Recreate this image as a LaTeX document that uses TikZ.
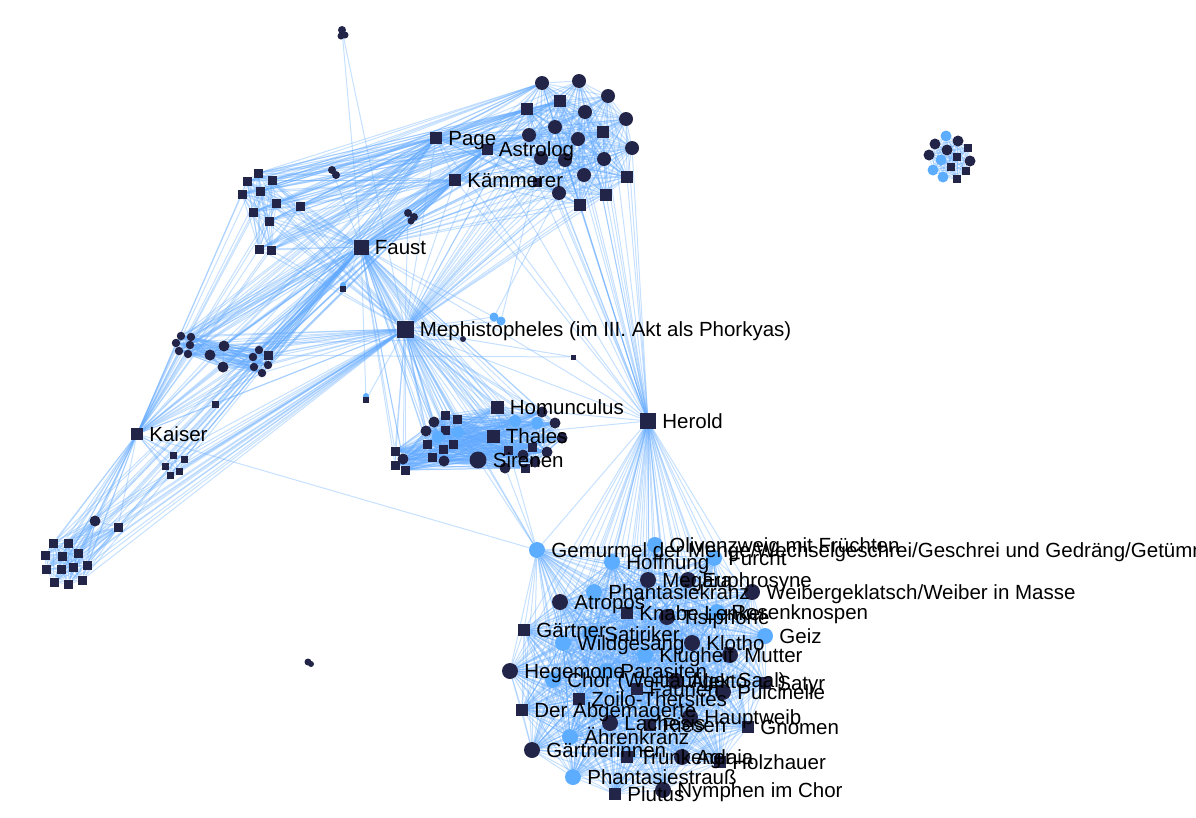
\documentclass[tikz,border=0pt]{standalone}
\usepackage{fontspec}
\setmainfont{Liberation Sans}
\usepackage{xcolor}
\usepackage{tikz}
\usetikzlibrary{shapes.geometric, positioning, calc, backgrounds}
\definecolor{nodeDark}{RGB}{34, 36, 72}
\definecolor{nodeLight}{RGB}{92, 172, 255}
\definecolor{edgeBlue}{RGB}{96, 168, 255}
\pgfdeclarelayer{front}
\pgfsetlayers{background,main,front}

% every pair of a group
\newcommand{\fullgraph}[2]{%
  \foreach \i in {2,...,#2}{%
    \pgfmathtruncatemacro\k{\i-1}%
    \foreach \j in {1,...,\k} \draw[edge] (#1\i) -- (#1\j);
  }}
% one node to a whole group
\newcommand{\hubedges}[3]{%
  \foreach \i in {1,...,#3} \draw[edge] (#1) -- (#2\i);}

\begin{document}
\begin{tikzpicture}[
    x=1pt, y=-1pt,
    dcirc/.style={circle, fill=nodeDark, inner sep=0pt, minimum size=14pt},
    lcirc/.style={circle, fill=nodeLight, inner sep=0pt, minimum size=15pt},
    midc/.style={dcirc, minimum size=11pt},
    lmidc/.style={lcirc, minimum size=12pt},
    smcirc/.style={dcirc, minimum size=8.5pt},
    dsq/.style={rectangle, fill=nodeDark, inner sep=0pt, minimum size=12pt},
    smsq/.style={dsq, minimum size=9pt},
    tinysq/.style={dsq, minimum size=7pt},
    edge/.style={draw=edgeBlue, draw opacity=0.36, line width=1pt},
    lab/.style={font=\fontsize{20.5}{22}\selectfont, anchor=base west, inner sep=0pt, text=black}
]
\useasboundingbox (0,0) rectangle (1196,817);

% Main characters
\node[dsq, minimum size=15pt] (faust) at (361,247) {};
\node[dsq, minimum size=17pt] (meph) at (405,329) {};
\node[dsq] (page) at (436,138) {};
\node[dsq, minimum size=11pt] (astro) at (487,149) {};
\node[dsq] (kaem) at (455,180) {};
\node[dsq] (kaiser) at (137,434) {};
\node[dsq, minimum size=13pt] (homun) at (497,407) {};
\node[dsq, minimum size=13pt] (thales) at (493,436) {};
\node[dcirc, minimum size=17pt] (sirenen) at (478,460) {};
\node[dsq, minimum size=16pt] (herold) at (648,421) {};

% Court group (top right)
\foreach \x/\y/\s [count=\i] in {542/83/dcirc, 579/81/dcirc, 608/96/dcirc, 585/112/dcirc,
    626/119/dcirc, 555/127/dcirc, 529/135/dcirc, 578/139/dcirc, 632/148/dcirc, 541/158/dcirc,
    565/160/dcirc, 604/159/dcirc, 584/175/dcirc, 559/193/dcirc, 527/109/dsq, 560/101/dsq,
    603/132/dsq, 627/177/dsq, 606/195/dsq, 580/205/dsq, 537/182/smsq}
  \node[\s] (tr\i) at (\x,\y) {};

% Small squares (top left)
\foreach \x/\y [count=\i] in {258/173, 247/181, 272/180, 242/194, 260/191, 276/203,
    300/206, 253/212, 269/221, 259/249, 271/250}
  \node[smsq] (tl\i) at (\x,\y) {};

% Circles (middle left)
\foreach \x/\y/\s [count=\i] in {181/336/smcirc, 191/337/smcirc, 176/343/smcirc, 190/345/smcirc,
    179/351/smcirc, 188/354/smcirc, 210/355/midc, 224/346/midc, 223/367/midc, 259/350/smcirc,
    253/357/smcirc, 268/355/smsq, 268/365/smcirc, 254/367/smcirc, 262/373/smcirc}
  \node[\s] (ml\i) at (\x,\y) {};

% Near the emperor
\foreach \x/\y [count=\i] in {173/455, 184/459, 165/466, 179/471, 170/475}
  \node[tinysq] (ka\i) at (\x,\y) {};

% Bottom left group
\foreach \x/\y/\s [count=\i] in {53/543/smsq, 68/543/smsq, 45/555/smsq, 62/556/smsq, 78/553/smsq,
    46/569/smsq, 61/569/smsq, 73/567/smsq, 87/565/smsq, 54/582/smsq, 68/584/smsq, 82/580/smsq,
    95/521/midc, 118/527/smsq}
  \node[\s] (bl\i) at (\x,\y) {};

% Middle group
\foreach \x/\y/\s [count=\i] in {445/415/smsq, 457/419/smsq, 445/430/smsq, 427/444/smsq,
    453/444/smsq, 443/449/smsq, 432/457/smsq, 395/451/smsq, 395/465/smsq, 405/470/smsq,
    508/450/smsq, 532/447/smsq, 525/468/smsq, 434/422/midc, 426/431/midc, 403/459/midc,
    444/461/midc, 542/412/midc, 555/423/midc, 523/455/midc, 547/452/midc, 535/462/midc,
    505/468/midc, 562/438/midc, 438/437/lmidc, 458/432/lmidc, 515/421/lmidc, 537/423/lmidc}
  \node[\s] (mc\i) at (\x,\y) {};

% Far right group
\begin{scope}[dcirc/.append style={minimum size=11pt}, lcirc/.append style={minimum size=11pt},
    dsq/.append style={minimum size=8pt}]
\foreach \x/\y/\s [count=\i] in {946/136/lcirc, 935/144/dcirc, 958/141/dcirc, 929/155/dcirc,
    947/150/dcirc, 941/160/lcirc, 968/148/dsq, 957/157/dsq, 970/161/dcirc, 951/167/dsq,
    933/170/lcirc, 966/171/dsq, 943/177/lcirc, 957/179/dsq}
  \node[\s] (fr\i) at (\x,\y) {};
\end{scope}

% Little clumps and single nodes
\node[smcirc, minimum size=8pt] (bx1) at (332,170) {};
\node[smcirc, minimum size=8pt] at (336,175) {};
\node[smcirc, minimum size=8pt] (bx2) at (408,213) {};
\node[smcirc, minimum size=8pt] at (414,217) {};
\node[smcirc, minimum size=7pt] at (411,221) {};
\node[smcirc, minimum size=8pt] (bx3) at (342,30) {};
\node[smcirc, minimum size=7pt] at (345,35) {};
\node[smcirc, minimum size=7pt] at (341,36) {};
\node[smcirc, minimum size=7pt] (bx4) at (308,662) {};
\node[smcirc, minimum size=6pt] at (311,664) {};
\node[tinysq] (od1) at (215,404) {};
\node[smcirc, minimum size=6pt] (od2) at (463,339) {};
\node[dsq, minimum size=5pt] (od3) at (573,357) {};
\node[lcirc, minimum size=6pt] at (366,396) {};
\node[dsq, minimum size=6pt] (od4) at (366,400) {};
\node[lcirc, minimum size=6pt] at (343,285) {};
\node[dsq, minimum size=6pt] (od5) at (343,289) {};
\node[lcirc, minimum size=9pt] (od6) at (494,317) {};
\node[lcirc, minimum size=9pt] (od7) at (501,321) {};

% Carnival group (bottom)
\def\lclist{537/550/lcirc/{Gemurmel der Menge/Wechselgeschrei/Geschrei und Gedräng/Getümmel},
  655/545/lcirc/{Olivenzweig mit Früchten}, 612/562/lcirc/Hoffnung, 714/558/lcirc/Furcht,
  648/580/dcirc/Megära, 688/580/dcirc/Euphrosyne, 594/592/lcirc/Phantasiekranz,
  752/592/dcirc/{Weibergeklatsch/Weiber in Masse}, 560/602/dcirc/Atropos,
  627/613/dsq/{Knabe Lenker}, 667/617/dcirc/Tisiphone, 717/612/lcirc/Rosenknospen,
  524/630/dsq/Gärtner, 590/634/lcirc/Satiriker, 563/643/lcirc/Wildgesang,
  692/643/dcirc/Klotho, 645/655/lcirc/Klugheit, 765/636/lcirc/Geiz, 730/655/dcirc/Mutter,
  510/671/dcirc/Hegemone, 606/671/lcirc/Parasiten, 553/680/lcirc/{Chor (Weitläufiger Saal)},
  676/681/dcirc/Alekto, 765/683/dsq/Satyr, 637/689/dsq/Faunen, 723/692/dcirc/Pulcinelle,
  579/699/dsq/Zoilo-Thersites, 522/710/dsq/{Der Abgemagerte}, 610/723/dcirc/Lachesis,
  650/725/dsq/Riesen, 690/717/dcirc/Hauptweib, 748/727/dsq/Gnomen, 570/737/lcirc/Ährenkranz,
  532/750/dcirc/Gärtnerinnen, 627/757/dsq/Trunkener, 682/757/dcirc/Aglaia,
  720/762/dsq/Holzhauer, 573/777/lcirc/Phantasiestrauß, 615/794/dsq/Plutus,
  663/790/dcirc/{Nymphen im Chor}}
\begin{scope}[dcirc/.append style={minimum size=16pt}, lcirc/.append style={minimum size=16pt}]
\foreach \x/\y/\s/\t [count=\i] in \lclist
  \node[\s] (lc\i) at (\x,\y) {};
\end{scope}

% Edges
\begin{scope}[on background layer]
\fullgraph{tr}{21}
\fullgraph{tl}{11}
\fullgraph{ml}{15}
\fullgraph{ka}{5}
\fullgraph{bl}{14}
\fullgraph{mc}{28}
\fullgraph{fr}{14}
\fullgraph{lc}{40}
\foreach \n in {meph,page,astro,kaem,kaiser,herold,homun,thales,sirenen,lc1,bx1,bx2,bx3,od1,od4,od5,od6}
  \draw[edge] (faust) -- (\n);
\foreach \n in {page,astro,kaem,kaiser,herold,homun,thales,sirenen,lc1,bx2,bx3,od1,od2,od3,od4,od6,od7}
  \draw[edge] (meph) -- (\n);
\hubedges{faust}{tr}{21} \hubedges{faust}{tl}{11} \hubedges{faust}{ml}{15}
\hubedges{faust}{ka}{5} \hubedges{faust}{bl}{14} \hubedges{faust}{mc}{28}
\hubedges{meph}{tr}{21} \hubedges{meph}{tl}{11} \hubedges{meph}{ml}{15}
\hubedges{meph}{ka}{5} \hubedges{meph}{bl}{14} \hubedges{meph}{mc}{28}
\hubedges{herold}{lc}{40} \hubedges{herold}{tr}{21}
\foreach \n in {page,astro,kaem,homun,thales,od3}
  \draw[edge] (herold) -- (\n);
\foreach \c in {page,astro,kaem}{
  \hubedges{\c}{tr}{21} \hubedges{\c}{tl}{11} \hubedges{\c}{ml}{15}
  \draw[edge] (\c) -- (kaiser);
}
\foreach \c in {tr1,tr7,tr15,tr16}{
  \hubedges{\c}{tl}{11}
}
\draw[edge] (page) -- (astro);
\draw[edge] (page) -- (kaem);
\draw[edge] (astro) -- (kaem);
\draw[edge] (page) -- (bx1);
\hubedges{kaiser}{ml}{15} \hubedges{kaiser}{bl}{14} \hubedges{kaiser}{ka}{5}
\hubedges{kaiser}{tl}{11}
\draw[edge] (kaiser) -- (lc1);
\draw[edge] (kaiser) -- (od1);
\foreach \n in {homun,thales,sirenen}{
  \hubedges{\n}{mc}{28}
  \draw[edge] (\n) -- (lc1);
}
\draw[edge] (homun) -- (thales);
\draw[edge] (homun) -- (sirenen);
\draw[edge] (thales) -- (sirenen);
\draw[edge] (od2) -- (ml4);
\draw[edge] (od3) -- (ml7);
\draw[edge] (od6) -- (tr14);
\draw[edge] (od7) -- (tr10);
\end{scope}

% Labels
\begin{pgfonlayer}{front}
\foreach \n/\t in {faust/Faust, meph/{Mephistopheles (im III. Akt als Phorkyas)}, page/Page,
    astro/Astrolog, kaem/Kämmerer, kaiser/Kaiser, homun/Homunculus, thales/Thales,
    sirenen/Sirenen, herold/Herold}
  \node[lab] at ([xshift=6pt, yshift=-7pt]\n.east) {\t};
\foreach \x/\y/\s/\t [count=\i] in \lclist
  \node[lab] at ([xshift=6pt, yshift=-7pt]lc\i.east) {\t};
\end{pgfonlayer}

\end{tikzpicture}
\end{document}
